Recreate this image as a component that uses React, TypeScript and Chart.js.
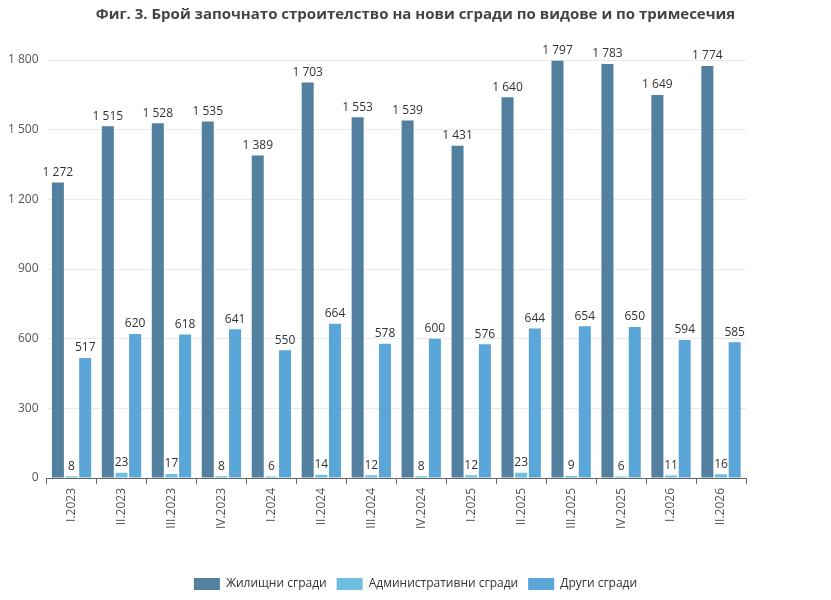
import React, { useEffect, useRef } from "react";
import { Chart, registerables } from "chart.js";
Chart.register(...registerables);

const categories = ["I.2023","II.2023","III.2023","IV.2023","I.2024","II.2024","III.2024","IV.2024","I.2025","II.2025","III.2025","IV.2025","I.2026","II.2026"];
const residential = [1272,1515,1528,1535,1389,1703,1553,1539,1431,1640,1797,1783,1649,1774];
const administrative = [8,23,17,8,6,14,12,8,12,23,9,6,11,16];
const other = [517,620,618,641,550,664,578,600,576,644,654,650,594,585];

const fmt = (v: number) => String(v).replace(/\B(?=(\d{3})+(?!\d))/g, " ");

const labelPlugin = {
  id: "vlabels",
  afterDatasetsDraw(chart: any) {
    const ctx = chart.ctx;
    ctx.save();
    ctx.font = "12px 'Open Sans', sans-serif";
    ctx.fillStyle = "#333";
    ctx.textAlign = "center";
    ctx.textBaseline = "bottom";
    chart.data.datasets.forEach((ds: any, i: number) => {
      chart.getDatasetMeta(i).data.forEach((bar: any, j: number) => {
        ctx.fillText(fmt(ds.data[j]), bar.x, bar.y - 4);
      });
    });
    ctx.restore();
  },
};

export default function App() {
  const ref = useRef<HTMLCanvasElement>(null);
  useEffect(() => {
    document.body.style.margin = "0";
    const chart = new Chart(ref.current!, {
      type: "bar",
      data: {
        labels: categories,
        datasets: [
          { label: "Жилищни сгради", data: residential, backgroundColor: "#52809e" },
          { label: "Административни сгради", data: administrative, backgroundColor: "#71bfe0" },
          { label: "Други сгради", data: other, backgroundColor: "#5aa6d9" },
        ],
      },
      plugins: [labelPlugin],
      options: {
        animation: false,
        responsive: false,
        layout: { padding: { left: 0, right: 0, top: 0, bottom: 0 } },
        datasets: { bar: { categoryPercentage: 0.82, barPercentage: 0.88 } },
        plugins: {
          title: {
            display: true,
            text: "Фиг. 3. Брой започнато строителство на нови сгради по видове и по тримесечия",
            color: "#444",
            font: { size: 15, weight: "bold", family: "'Open Sans', sans-serif" },
            padding: { top: 6, bottom: 36 },
          },
          legend: {
            position: "bottom",
            labels: { boxWidth: 26, boxHeight: 12, color: "#333", padding: 10, font: { size: 12, family: "'Open Sans', sans-serif" } },
          },
          tooltip: { enabled: false },
        },
        scales: {
          x: {
            grid: { display: true, drawOnChartArea: false, offset: true, color: "#666", tickLength: 6 },
            border: { color: "#666" },
            ticks: { maxRotation: 90, minRotation: 90, color: "#555", font: { size: 12, family: "'Open Sans', sans-serif" }, padding: 4 },
            afterFit: (s: any) => { s.height = 90; },
          },
          y: {
            min: 0, max: 1800,
            ticks: { stepSize: 300, color: "#555", callback: (v: any) => fmt(v), font: { size: 12, family: "'Open Sans', sans-serif" }, padding: 8 },
            grid: { color: "#e6e9f0", drawTicks: false },
            border: { display: false },
          },
          yr: {
            position: "right",
            min: 0, max: 1800,
            ticks: { display: false },
            grid: { display: false },
            border: { display: false },
            afterFit: (s: any) => { s.width = 85; },
          },
        },
      },
    } as any);
    return () => chart.destroy();
  }, []);
  return <div style={{ position: "absolute", left: 0, top: 0 }}><canvas ref={ref} width={831} height={600} /></div>;
}
